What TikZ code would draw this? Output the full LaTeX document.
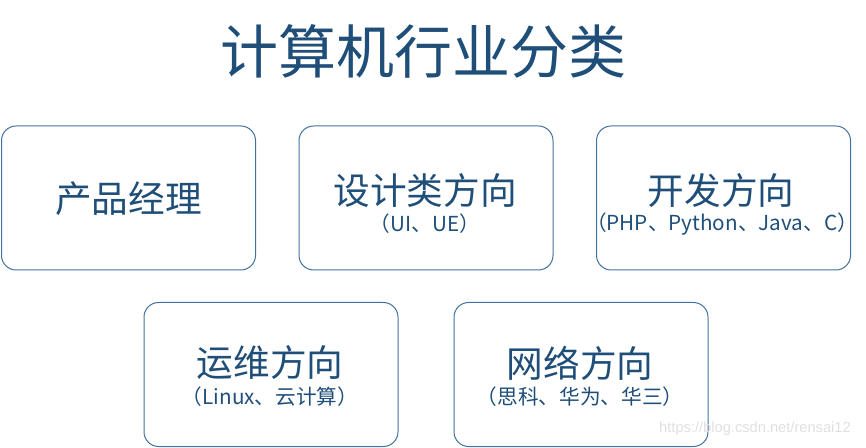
\documentclass[tikz,border=0pt]{standalone}
\usepackage{fontspec}
\newfontfamily\cjk{Noto Sans CJK SC}
\newfontfamily\wmfont{Liberation Sans}
\definecolor{txtblue}{HTML}{1F4E79}
\definecolor{boxline}{HTML}{41719C}

\begin{document}
\begin{tikzpicture}[x=0.75pt,y=-0.75pt]
  \tikzset{box/.style={draw=boxline,line width=0.75pt,rounded corners=11pt,
      minimum width=190.5pt,minimum height=108pt,inner sep=0pt},
    title/.style={font=\cjk\fontsize{43.5}{48}\selectfont,text=txtblue,inner sep=0pt},
    main/.style={font=\cjk\fontsize{27.5}{32}\selectfont,text=txtblue,inner sep=0pt},
    sub/.style={font=\cjk\fontsize{15.5}{18}\selectfont,text=txtblue,inner sep=0pt}}
  \useasboundingbox (0,0) rectangle (866,448);
  \node[title] (t) at (423,51) {计算机行业分类};
  \node[box] (pm) at (128.5,198) {};
  \node[box] (design) at (426,198) {};
  \node[box] (dev) at (723.5,198) {};
  \node[box] (ops) at (271,374.5) {};
  \node[box] (net) at (581,374.5) {};
  \node[main] (pmt) at (128.5,199) {产品经理};
  \node[main] (designt) at (425,191) {设计类方向};
  \node[sub] (designs) at (425,224) {（UI、UE）};
  \node[main] (devt) at (721,191) {开发方向};
  \node[sub] (devs) at (722,224) {（PHP、Python、Java、C）};
  \node[main] (opst) at (270,363) {运维方向};
  \node[sub] (opss) at (270,397) {（Linux、云计算）};
  \node[main] (nett) at (580,363) {网络方向};
  \node[sub] (nets) at (580,397) {（思科、华为、华三）};
  \node[font=\wmfont\fontsize{11}{13}\selectfont,text=black!12,inner sep=0pt] (wm) at (755,429) {https://blog.csdn.net/rensai12};
\end{tikzpicture}
\end{document}
